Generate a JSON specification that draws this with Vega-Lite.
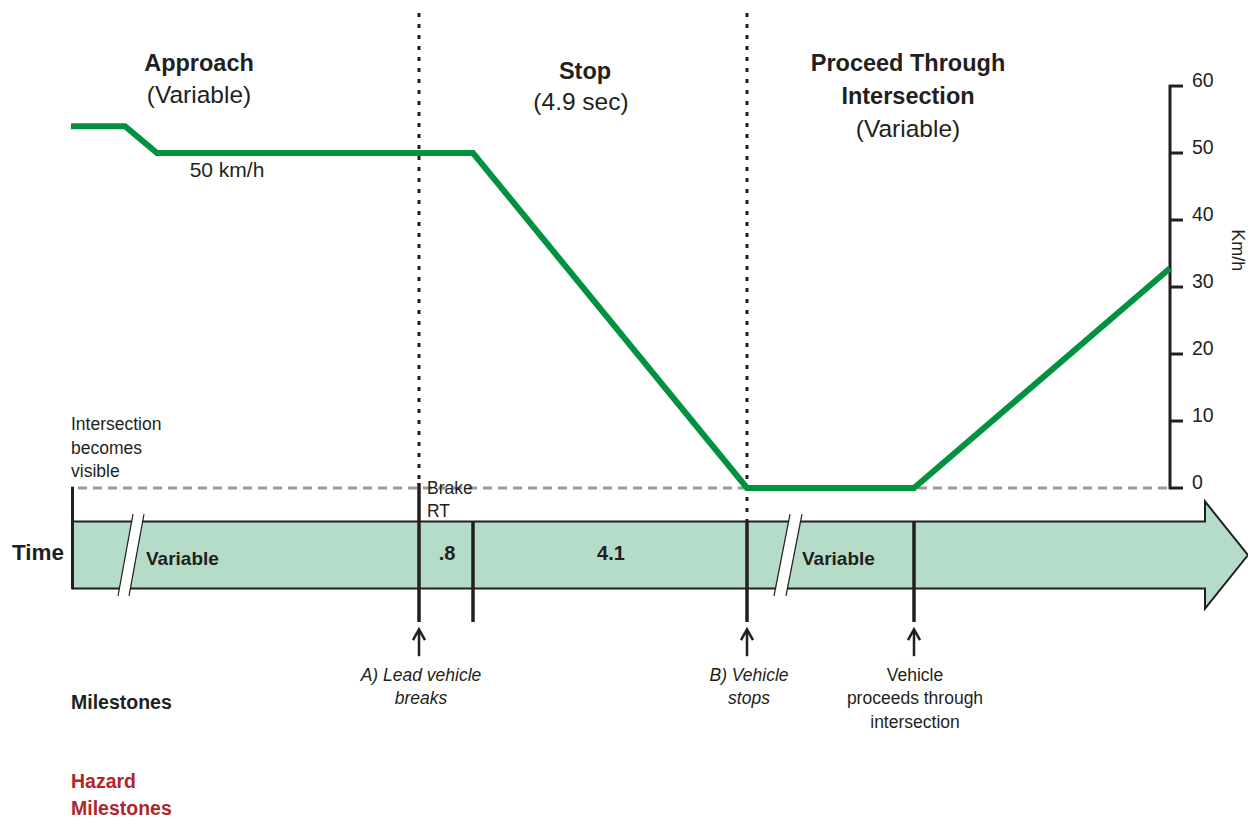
{
  "$schema": "https://vega.github.io/schema/vega-lite/v6.json",
  "width": 1248,
  "height": 821,
  "padding": 0,
  "autosize": "none",
  "background": "white",
  "config": {"view": {"stroke": null}, "text": {"font": "Liberation Sans Narrow, Arial Narrow, Liberation Sans, sans-serif", "color": "#231f20", "baseline": "middle"}},
  "encoding": {
    "x": {"field": "t", "type": "quantitative", "scale": {"domain": [0, 1248], "nice": false, "zero": false}, "axis": null},
    "y": {"field": "v", "type": "quantitative", "scale": {"domain": [-49.7, 72.84], "nice": false, "zero": false}, "axis": null}
  },
  "layer": [
    {
      "data": {"values": [{"t": 72, "v": -5, "v2": -15}, {"t": 1205, "v": -5, "v2": -15}]},
      "mark": {"type": "area", "color": "#b5dcc8", "opacity": 1},
      "encoding": {"y2": {"field": "v2"}}
    },
    {
      "data": {"values": [{"t": 1205, "v": -2, "v2": -18}, {"t": 1248, "v": -10, "v2": -10}]},
      "mark": {"type": "area", "color": "#b5dcc8", "opacity": 1},
      "encoding": {"y2": {"field": "v2"}}
    },
    {
      "data": {"values": [
        {"i": 1, "t": 72, "v": -5}, {"i": 2, "t": 1205, "v": -5}, {"i": 3, "t": 1205, "v": -2},
        {"i": 4, "t": 1248, "v": -10}, {"i": 5, "t": 1205, "v": -18}, {"i": 6, "t": 1205, "v": -15}, {"i": 7, "t": 72, "v": -15}
      ]},
      "mark": {"type": "line", "color": "#231f20", "strokeWidth": 2, "strokeJoin": "miter"},
      "encoding": {"order": {"field": "i", "type": "quantitative"}}
    },
    {
      "data": {"values": [
        {"s": "a", "t": 138.5, "v": -3.9}, {"s": "a", "t": 123.5, "v": -16.1},
        {"s": "b", "t": 796, "v": -3.9}, {"s": "b", "t": 780, "v": -16.1}
      ]},
      "mark": {"type": "line", "color": "white", "strokeWidth": 10.5, "strokeCap": "butt"},
      "encoding": {"detail": {"field": "s"}}
    },
    {
      "data": {"values": [
        {"s": "a", "t": 133, "v": -3.9}, {"s": "a", "t": 118, "v": -16.1},
        {"s": "b", "t": 144, "v": -3.9}, {"s": "b", "t": 129, "v": -16.1},
        {"s": "c", "t": 790, "v": -3.9}, {"s": "c", "t": 774, "v": -16.1},
        {"s": "d", "t": 802, "v": -3.9}, {"s": "d", "t": 786, "v": -16.1}
      ]},
      "mark": {"type": "line", "color": "#231f20", "strokeWidth": 1.2, "strokeCap": "butt"},
      "encoding": {"detail": {"field": "s"}}
    },
    {
      "data": {"values": [{"t": 78, "t2": 1170, "v": 0}]},
      "mark": {"type": "rule", "color": "#9b9b9b", "strokeWidth": 3, "strokeDash": [9, 6]},
      "encoding": {"x2": {"field": "t2"}}
    },
    {
      "data": {"values": [{"t": 419, "v": 70.9, "v2": 0.75}, {"t": 747, "v": 70.9, "v2": -5}]},
      "mark": {"type": "rule", "color": "#231f20", "strokeWidth": 3, "strokeDash": [4, 7]},
      "encoding": {"y2": {"field": "v2"}}
    },
    {
      "data": {"values": [
        {"t": 419, "v": 0.75, "v2": -20}, {"t": 473, "v": -5, "v2": -20},
        {"t": 747, "v": -5, "v2": -20}, {"t": 914, "v": -5, "v2": -20}
      ]},
      "mark": {"type": "rule", "color": "#231f20", "strokeWidth": 3.5},
      "encoding": {"y2": {"field": "v2"}}
    },
    {
      "data": {"values": [{"t": 72.5, "v": 0.2, "v2": -15.1}, {"t": 1170, "v": 60.2, "v2": -0.2}]},
      "mark": {"type": "rule", "color": "#231f20", "strokeWidth": 3},
      "encoding": {"y2": {"field": "v2"}}
    },
    {
      "data": {"values": [
        {"t": 1170, "t2": 1183, "v": 0}, {"t": 1170, "t2": 1183, "v": 10}, {"t": 1170, "t2": 1183, "v": 20},
        {"t": 1170, "t2": 1183, "v": 30}, {"t": 1170, "t2": 1183, "v": 40}, {"t": 1170, "t2": 1183, "v": 50},
        {"t": 1170, "t2": 1183, "v": 60}
      ]},
      "mark": {"type": "rule", "color": "#231f20", "strokeWidth": 3},
      "encoding": {"x2": {"field": "t2"}}
    },
    {
      "data": {"values": [
        {"t": 71, "v": 54}, {"t": 125, "v": 54}, {"t": 157, "v": 50}, {"t": 473, "v": 50},
        {"t": 747, "v": 0}, {"t": 914, "v": 0}, {"t": 1170, "v": 32.8}
      ]},
      "mark": {"type": "line", "color": "#00923f", "strokeWidth": 6, "strokeJoin": "miter", "strokeCap": "butt"}
    },
    {
      "data": {"values": [{"t": 419, "v": -21.3, "v2": -25.1}, {"t": 747, "v": -21.3, "v2": -25.1}, {"t": 914, "v": -21.3, "v2": -25.1}]},
      "mark": {"type": "rule", "color": "#231f20", "strokeWidth": 2.5},
      "encoding": {"y2": {"field": "v2"}}
    },
    {
      "data": {"values": [
        {"s": "a", "t": 413, "v": -22.7}, {"s": "a", "t": 419, "v": -21.1}, {"s": "a", "t": 425, "v": -22.7},
        {"s": "b", "t": 741, "v": -22.7}, {"s": "b", "t": 747, "v": -21.1}, {"s": "b", "t": 753, "v": -22.7},
        {"s": "c", "t": 908, "v": -22.7}, {"s": "c", "t": 914, "v": -21.1}, {"s": "c", "t": 920, "v": -22.7}
      ]},
      "mark": {"type": "line", "color": "#231f20", "strokeWidth": 2.5, "strokeJoin": "miter"},
      "encoding": {"detail": {"field": "s"}}
    },
    {
      "data": {"values": [
        {"t": 199, "v": 63.3, "label": "Approach"}, {"t": 585, "v": 62.1, "label": "Stop"},
        {"t": 908, "v": 63.3, "label": "Proceed Through"}, {"t": 908, "v": 58.4, "label": "Intersection"}
      ]},
      "mark": {"type": "text", "fontSize": 23.5, "fontWeight": "bold", "align": "center"},
      "encoding": {"text": {"field": "label"}}
    },
    {
      "data": {"values": [
        {"t": 199, "v": 58.5, "label": "(Variable)"}, {"t": 581, "v": 57.4, "label": "(4.9 sec)"},
        {"t": 908, "v": 53.5, "label": "(Variable)"}
      ]},
      "mark": {"type": "text", "fontSize": 24.5, "align": "center"},
      "encoding": {"text": {"field": "label"}}
    },
    {
      "data": {"values": [{"t": 227, "v": 47.3, "label": "50 km/h"}]},
      "mark": {"type": "text", "fontSize": 21, "align": "center"},
      "encoding": {"text": {"field": "label"}}
    },
    {
      "data": {"values": [
        {"t": 915, "v": -28.1, "label": "Vehicle"}, {"t": 915, "v": -31.5, "label": "proceeds through"},
        {"t": 915, "v": -35.0, "label": "intersection"}
      ]},
      "mark": {"type": "text", "fontSize": 17.5, "align": "center"},
      "encoding": {"text": {"field": "label"}}
    },
    {
      "data": {"values": [
        {"t": 71, "v": 9.4, "label": "Intersection"}, {"t": 71, "v": 5.85, "label": "becomes"},
        {"t": 71, "v": 2.4, "label": "visible"},
        {"t": 427, "v": -0.15, "label": "Brake"}, {"t": 427, "v": -3.6, "label": "RT"}
      ]},
      "mark": {"type": "text", "fontSize": 17.5, "align": "left"},
      "encoding": {"text": {"field": "label"}}
    },
    {
      "data": {"values": [
        {"t": 421, "v": -28.1, "label": "A) Lead vehicle"}, {"t": 421, "v": -31.5, "label": "breaks"},
        {"t": 749, "v": -28.1, "label": "B) Vehicle"}, {"t": 749, "v": -31.5, "label": "stops"}
      ]},
      "mark": {"type": "text", "fontSize": 17.5, "fontStyle": "italic", "align": "center"},
      "encoding": {"text": {"field": "label"}}
    },
    {
      "data": {"values": [{"t": 12, "v": -9.7, "label": "Time"}]},
      "mark": {"type": "text", "fontSize": 22.5, "fontWeight": "bold", "align": "left"},
      "encoding": {"text": {"field": "label"}}
    },
    {
      "data": {"values": [{"t": 146, "v": -10.6, "label": "Variable"}, {"t": 802, "v": -10.6, "label": "Variable"}]},
      "mark": {"type": "text", "fontSize": 19, "fontWeight": "bold", "align": "left"},
      "encoding": {"text": {"field": "label"}}
    },
    {
      "data": {"values": [{"t": 447, "v": -9.85, "label": ".8"}, {"t": 611, "v": -9.85, "label": "4.1"}]},
      "mark": {"type": "text", "fontSize": 20, "fontWeight": "bold", "align": "center"},
      "encoding": {"text": {"field": "label"}}
    },
    {
      "data": {"values": [{"t": 71, "v": -32.1, "label": "Milestones"}]},
      "mark": {"type": "text", "fontSize": 19.5, "fontWeight": "bold", "align": "left"},
      "encoding": {"text": {"field": "label"}}
    },
    {
      "data": {"values": [{"t": 71, "v": -43.9, "label": "Hazard"}, {"t": 71, "v": -47.9, "label": "Milestones"}]},
      "mark": {"type": "text", "fontSize": 19.5, "fontWeight": "bold", "align": "left", "color": "#b1262d"},
      "encoding": {"text": {"field": "label"}}
    },
    {
      "data": {"values": [
        {"t": 1192, "v": 0.7, "label": "0"}, {"t": 1192, "v": 10.7, "label": "10"}, {"t": 1192, "v": 20.7, "label": "20"},
        {"t": 1192, "v": 30.7, "label": "30"}, {"t": 1192, "v": 40.7, "label": "40"}, {"t": 1192, "v": 50.7, "label": "50"},
        {"t": 1192, "v": 60.7, "label": "60"}
      ]},
      "mark": {"type": "text", "fontSize": 19.5, "align": "left"},
      "encoding": {"text": {"field": "label"}}
    },
    {
      "data": {"values": [{"t": 1237, "v": 35.5, "label": "Km/h"}]},
      "mark": {"type": "text", "fontSize": 18, "align": "center", "angle": 90},
      "encoding": {"text": {"field": "label"}}
    }
  ]
}
